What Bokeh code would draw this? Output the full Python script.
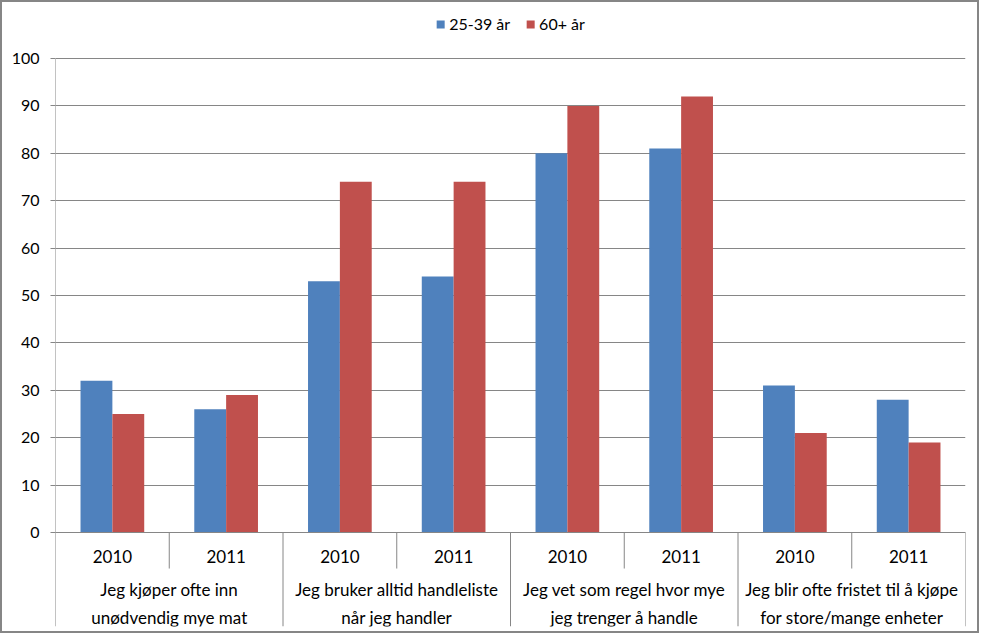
from bokeh.plotting import figure
from bokeh.models import Range1d, FixedTicker, Legend, LegendItem, ColumnDataSource
from bokeh.core.properties import value
from bokeh.embed import file_html
from bokeh.resources import INLINE

groups = ["Jeg kjøper ofte inn\nunødvendig mye mat",
          "Jeg bruker alltid handleliste\nnår jeg handler",
          "Jeg vet som regel hvor mye\njeg trenger å handle",
          "Jeg blir ofte fristet til å kjøpe\nfor store/mange enheter"]
years = ["2010", "2011"]
series_names = ["25-39 år", "60+ år"]
young = [32, 26, 53, 54, 80, 81, 31, 28]
old = [25, 29, 74, 74, 90, 92, 21, 19]
y_ticks = [0, 10, 20, 30, 40, 50, 60, 70, 80, 90, 100]

BLUE = "#4F81BD"
RED = "#C0504D"
GRAY = "#868686"
FONT = "Lato"

n = len(young)
slot_x = [i + 0.5 for i in range(n)]
year_labels = [years[i % 2] for i in range(n)]

src = ColumnDataSource(dict(
    xb=[x - 0.14 for x in slot_x],
    xr=[x + 0.14 for x in slot_x],
    young=young, old=old))

y_bottom = -19.83
y_top = 111.81
p = figure(width=979, height=633, x_range=Range1d(0, n), y_range=Range1d(y_bottom, y_top),
           output_backend="svg", toolbar_location=None, x_axis_location=None,
           min_border_left=53, min_border_right=16, min_border_top=0, min_border_bottom=9)
p.styles = {"border": "2px solid #868686"}
p.outline_line_color = None
p.xgrid.visible = False
p.ygrid.ticker = FixedTicker(ticks=y_ticks)
p.ygrid.grid_line_color = GRAY
p.yaxis.ticker = FixedTicker(ticks=y_ticks)
p.yaxis.axis_line_color = None
p.yaxis.major_tick_line_color = GRAY
p.yaxis.major_tick_out = 5
p.yaxis.major_tick_in = 0
p.yaxis.minor_tick_line_color = None
p.yaxis.major_label_standoff = 11
p.yaxis.major_label_text_font = FONT
p.yaxis.major_label_text_font_size = "16px"
p.yaxis.major_label_text_color = "black"

r1 = p.vbar(x="xb", top="young", width=0.28, source=src, fill_color=BLUE, line_color=None)
r2 = p.vbar(x="xr", top="old", width=0.28, source=src, fill_color=RED, line_color=None)

# value axis line and category axis structure
p.segment(x0=[0], y0=[y_bottom], x1=[0], y1=[100], line_color=GRAY, line_width=1)
p.segment(x0=[0], y0=[0], x1=[n], y1=[0], line_color=GRAY, line_width=1)
short_x = [1, 3, 5, 7]
p.segment(x0=short_x, y0=[0] * 4, x1=short_x, y1=[-7.6] * 4, line_color=GRAY, line_width=1)
long_x = [2, 4, 6, 8]
p.segment(x0=long_x, y0=[0] * 4, x1=long_x, y1=[y_bottom] * 4, line_color=GRAY, line_width=1)

p.text(x=slot_x, y=[-5.06] * n, text=year_labels, text_align="center", text_baseline="middle",
       text_font=value(FONT), text_font_size="17px", text_color="black")
p.text(x=[1, 3, 5, 7], y=[-14.98] * 4, text=groups, text_align="center", text_baseline="middle",
       text_font=value(FONT), text_font_size="17px", text_color="black", text_line_height=1.3)

legend = Legend(items=[LegendItem(label=series_names[0], renderers=[r1]),
                       LegendItem(label=series_names[1], renderers=[r2])],
                orientation="horizontal", location="top_center",
                glyph_width=10, glyph_height=10, label_standoff=4, spacing=15,
                padding=0, margin=12, border_line_color=None, background_fill_alpha=0,
                label_text_font=FONT, label_text_font_size="16px", label_text_color="black")
p.add_layout(legend, "center")

open("out.html", "w").write(file_html(p, INLINE))
